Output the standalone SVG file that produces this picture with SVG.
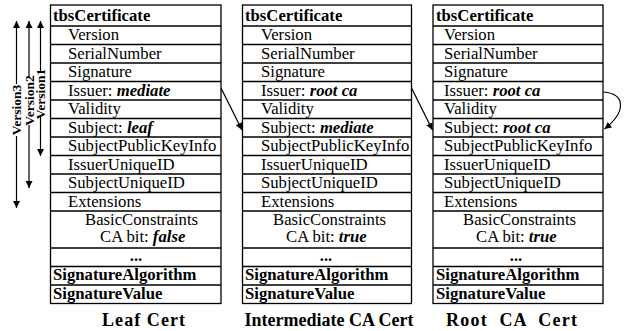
<svg xmlns="http://www.w3.org/2000/svg" width="624" height="331" viewBox="0 0 624 331">
  <style>
    .box { fill: #fff; stroke: #000; stroke-width: 1.3; }
    .rule { stroke: #000; stroke-width: 1.3; }
    text { font-family: "Liberation Serif", "Times New Roman", serif; font-size: 16.7px; fill: #000; }
    .b { font-weight: bold; }
    .bi { font-weight: bold; font-style: italic; }
    .ver { font-size: 13.5px; font-weight: bold; }
    .cap { font-size: 18px; font-weight: bold; }
    .wire { stroke: #000; stroke-width: 1.2; fill: none; }
  </style>
  <defs>
    <marker id="ah" viewBox="0 0 10 10" refX="10" refY="5" markerWidth="7" markerHeight="7" markerUnits="userSpaceOnUse" orient="auto">
      <path d="M0,0 L10,5 L0,10 z" fill="#000"/>
    </marker>
  </defs>

  <!-- version span arrows -->
  <g id="versions">
    <line class="wire" x1="16.5" y1="84" x2="16.5" y2="21" marker-end="url(#ah)"/>
    <line class="wire" x1="16.5" y1="136" x2="16.5" y2="208" marker-end="url(#ah)"/>
    <text class="ver" transform="translate(21,110) rotate(-90)" text-anchor="middle">Version3</text>

    <line class="wire" x1="29" y1="76" x2="29" y2="21" marker-end="url(#ah)"/>
    <line class="wire" x1="29" y1="125" x2="29" y2="188" marker-end="url(#ah)"/>
    <text class="ver" transform="translate(33.5,100.5) rotate(-90)" text-anchor="middle">Version2</text>

    <line class="wire" x1="40.5" y1="71" x2="40.5" y2="21" marker-end="url(#ah)"/>
    <line class="wire" x1="40.5" y1="117" x2="40.5" y2="156" marker-end="url(#ah)"/>
    <text class="ver" transform="translate(45,94) rotate(-90)" text-anchor="middle">Version1</text>
  </g>

  <!-- leaf certificate -->
  <g id="leaf">
    <rect class="box" x="50.5" y="5" width="170.5" height="298.5"/>
    <path class="rule" d="M50.5,26H221 M50.5,44.5H221 M50.5,63H221 M50.5,81.5H221 M50.5,100H221 M50.5,118.5H221 M50.5,137H221 M50.5,155.5H221 M50.5,174H221 M50.5,192.5H221 M50.5,211H221 M50.5,248H221 M50.5,266.5H221 M50.5,285H221"/>
    <text class="b" x="53" y="21">tbsCertificate</text>
    <text x="68" y="40">Version</text>
    <text x="68" y="58.5">SerialNumber</text>
    <text x="68" y="77">Signature</text>
    <text x="68" y="95.5">Issuer: <tspan class="bi">mediate</tspan></text>
    <text x="68" y="114">Validity</text>
    <text x="68" y="132.5">Subject: <tspan class="bi">leaf</tspan></text>
    <text x="68" y="151">SubjectPublicKeyInfo</text>
    <text x="68" y="169.5">IssuerUniqueID</text>
    <text x="68" y="188">SubjectUniqueID</text>
    <text x="68" y="206.5">Extensions</text>
    <text x="85" y="224.5">BasicConstraints</text>
    <text x="100" y="242">CA bit: <tspan class="bi">false</tspan></text>
    <text class="b" x="136" y="261" text-anchor="middle">...</text>
    <text class="b" x="53" y="280">SignatureAlgorithm</text>
    <text class="b" x="53" y="298.5">SignatureValue</text>
    <text class="cap" x="102" y="326" textLength="83">Leaf Cert</text>
  </g>

  <!-- intermediate CA certificate -->
  <g id="intermediate">
    <rect class="box" x="242.5" y="5" width="169" height="298.5"/>
    <path class="rule" d="M242.5,26H411.5 M242.5,44.5H411.5 M242.5,63H411.5 M242.5,81.5H411.5 M242.5,100H411.5 M242.5,118.5H411.5 M242.5,137H411.5 M242.5,155.5H411.5 M242.5,174H411.5 M242.5,192.5H411.5 M242.5,211H411.5 M242.5,248H411.5 M242.5,266.5H411.5 M242.5,285H411.5"/>
    <text class="b" x="245" y="21">tbsCertificate</text>
    <text x="261" y="40">Version</text>
    <text x="261" y="58.5">SerialNumber</text>
    <text x="261" y="77">Signature</text>
    <text x="261" y="95.5">Issuer: <tspan class="bi">root ca</tspan></text>
    <text x="261" y="114">Validity</text>
    <text x="261" y="132.5">Subject: <tspan class="bi">mediate</tspan></text>
    <text x="261" y="151">SubjectPublicKeyInfo</text>
    <text x="261" y="169.5">IssuerUniqueID</text>
    <text x="261" y="188">SubjectUniqueID</text>
    <text x="261" y="206.5">Extensions</text>
    <text x="273" y="224.5">BasicConstraints</text>
    <text x="286" y="242">CA bit: <tspan class="bi">true</tspan></text>
    <text class="b" x="326" y="261" text-anchor="middle">...</text>
    <text class="b" x="245" y="280">SignatureAlgorithm</text>
    <text class="b" x="245" y="298.5">SignatureValue</text>
    <text class="cap" x="329" y="326" text-anchor="middle">Intermediate CA Cert</text>
  </g>

  <!-- root CA certificate -->
  <g id="root">
    <rect class="box" x="433" y="5" width="170" height="298.5"/>
    <path class="rule" d="M433,26H603 M433,44.5H603 M433,63H603 M433,81.5H603 M433,100H603 M433,118.5H603 M433,137H603 M433,155.5H603 M433,174H603 M433,192.5H603 M433,211H603 M433,248H603 M433,266.5H603 M433,285H603"/>
    <text class="b" x="436" y="21">tbsCertificate</text>
    <text x="444" y="40">Version</text>
    <text x="444" y="58.5">SerialNumber</text>
    <text x="444" y="77">Signature</text>
    <text x="444" y="95.5">Issuer: <tspan class="bi">root ca</tspan></text>
    <text x="444" y="114">Validity</text>
    <text x="444" y="132.5">Subject: <tspan class="bi">root ca</tspan></text>
    <text x="444" y="151">SubjectPublicKeyInfo</text>
    <text x="444" y="169.5">IssuerUniqueID</text>
    <text x="444" y="188">SubjectUniqueID</text>
    <text x="444" y="206.5">Extensions</text>
    <text x="463" y="224.5">BasicConstraints</text>
    <text x="476" y="242">CA bit: <tspan class="bi">true</tspan></text>
    <text class="b" x="516" y="261" text-anchor="middle">...</text>
    <text class="b" x="436" y="280">SignatureAlgorithm</text>
    <text class="b" x="436" y="298.5">SignatureValue</text>
    <text class="cap" x="446" y="326" xml:space="preserve" textLength="131">Root  CA  Cert</text>
  </g>

  <!-- issuer to subject links -->
  <g id="connectors">
    <line class="wire" x1="221" y1="88" x2="242" y2="130" marker-end="url(#ah)"/>
    <line class="wire" x1="411.5" y1="88" x2="432.5" y2="130" marker-end="url(#ah)"/>
    <path class="wire" d="M603.5,92 C626,94 626,112 604.5,129" marker-end="url(#ah)"/>
  </g>
</svg>
